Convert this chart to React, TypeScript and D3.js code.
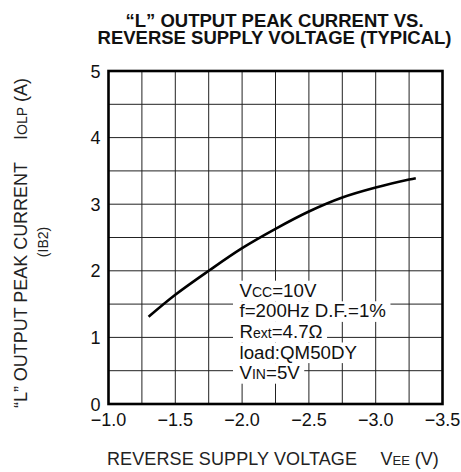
import React, { useEffect, useRef } from "react";
import * as d3 from "d3";

// reverse supply voltage VEE (V) and "L" output peak current IOLP (A)
const vee = [-1.3, -1.5, -1.75, -2.0, -2.25, -2.5, -2.75, -3.0, -3.25, -3.3];
const iolp = [1.31, 1.64, 2.0, 2.34, 2.63, 2.89, 3.1, 3.25, 3.37, 3.39];

const xTicks = [-1.0, -1.5, -2.0, -2.5, -3.0, -3.5];
const yTicks = [0, 1, 2, 3, 4, 5];

// condition lines: [main, subscript, rest]
const conditions: [string, string, string][] = [
  ["V", "CC", "=10V"],
  ["f=200Hz D.F.=1%", "", ""],
  ["R", "ext", "=4.7\u03A9"],
  ["load:QM50DY", "", ""],
  ["V", "IN", "=5V"],
];

const W = 461;
const H = 472;
const FONT = "'Liberation Sans', Arial, Helvetica, sans-serif";

export default function App() {
  const ref = useRef<SVGSVGElement>(null);

  useEffect(() => {
    if (!ref.current) return;
    const svg = d3.select(ref.current);
    svg.selectAll("*").remove();

    const left = 108.5;
    const right = 442.5;
    const top = 71;
    const bottom = 404;

    const x = d3.scaleLinear().domain([-1, -3.5]).range([left, right]);
    const y = d3.scaleLinear().domain([0, 5]).range([bottom, top]);

    // grid
    const grid = svg.append("g").attr("stroke", "#222").attr("stroke-width", 1);
    d3.range(-1.25, -3.5, -0.25).forEach((v) => {
      grid.append("line").attr("x1", x(v)).attr("x2", x(v)).attr("y1", top).attr("y2", bottom);
    });
    d3.range(0.5, 5, 0.5).forEach((v) => {
      grid.append("line").attr("x1", left).attr("x2", right).attr("y1", y(v)).attr("y2", y(v));
    });

    // curve
    const line = d3
      .line<number>()
      .x((d) => x(vee[d]))
      .y((d) => y(iolp[d]))
      .curve(d3.curveCatmullRom.alpha(0.5));
    svg
      .append("path")
      .attr("d", line(d3.range(vee.length)))
      .attr("fill", "none")
      .attr("stroke", "#000")
      .attr("stroke-width", 2.6);

    // condition text with white boxes
    const cond = svg.append("g");
    conditions.forEach((c, i) => {
      const base = 296.7 + i * 20.6;
      const rect = cond.append("rect").attr("fill", "#fff");
      const t = cond
        .append("text")
        .attr("x", 239.5)
        .attr("y", base)
        .attr("font-family", FONT)
        .attr("font-size", 18.7)
        .attr("fill", "#111");
      t.append("tspan").text(c[0]);
      if (c[1]) t.append("tspan").attr("font-size", 14).text(c[1]);
      if (c[2]) t.append("tspan").text(c[2]);
      const w = (t.node() as SVGTextElement).getComputedTextLength();
      rect
        .attr("x", 233)
        .attr("y", base - 16)
        .attr("width", w + 11)
        .attr("height", 20.6);
    });

    // frame
    svg
      .append("rect")
      .attr("x", left)
      .attr("y", top)
      .attr("width", right - left)
      .attr("height", bottom - top)
      .attr("fill", "none")
      .attr("stroke", "#000")
      .attr("stroke-width", 2.6);

    // tick labels
    svg
      .append("g")
      .selectAll("text")
      .data(xTicks)
      .join("text")
      .attr("x", (d) => x(d))
      .attr("y", 425.5)
      .attr("text-anchor", "middle")
      .attr("font-family", FONT)
      .attr("font-size", 18)
      .attr("fill", "#111")
      .text((d) => d.toFixed(1).replace("-", "\u2212"));

    svg
      .append("g")
      .selectAll("text")
      .data(yTicks)
      .join("text")
      .attr("x", 100.5)
      .attr("y", (d) => y(d) + 6.5)
      .attr("text-anchor", "end")
      .attr("font-family", FONT)
      .attr("font-size", 18)
      .attr("fill", "#111")
      .text((d) => String(d));

    // title
    ["\u201CL\u201D OUTPUT PEAK CURRENT VS.", "REVERSE SUPPLY VOLTAGE (TYPICAL)"].forEach((s, i) => {
      svg
        .append("text")
        .attr("x", 274.5)
        .attr("y", 26.5 + i * 17.8)
        .attr("text-anchor", "middle")
        .attr("font-family", FONT)
        .attr("font-weight", "bold")
        .attr("font-size", 18.5)
        .attr("fill", "#111")
        .text(s);
    });

    // x axis label
    const xl = svg
      .append("text")
      .attr("y", 465)
      .attr("font-family", FONT)
      .attr("font-size", 18)
      .attr("fill", "#222");
    xl.append("tspan").attr("x", 107).attr("textLength", 250).text("REVERSE SUPPLY VOLTAGE");
    xl.append("tspan").attr("x", 380.5).text("V");
    xl.append("tspan").attr("font-size", 13).text("EE");
    xl.append("tspan").text(" (V)");

    // y axis label
    svg
      .append("text")
      .attr("transform", "translate(27,408) rotate(-90)")
      .attr("font-family", FONT)
      .attr("font-size", 18)
      .attr("fill", "#222")
      .attr("textLength", 246)
      .text("\u201CL\u201D OUTPUT PEAK CURRENT");
    const yl = svg
      .append("text")
      .attr("transform", "translate(27,140) rotate(-90)")
      .attr("font-family", FONT)
      .attr("font-size", 18)
      .attr("fill", "#222");
    yl.append("tspan").text("I");
    yl.append("tspan").attr("font-size", 14).text("OLP");
    yl.append("tspan").text(" (A)");
    svg
      .append("text")
      .attr("transform", "translate(47.5,242) rotate(-90)")
      .attr("text-anchor", "middle")
      .attr("font-family", FONT)
      .attr("font-size", 14)
      .attr("fill", "#222")
      .text("(IB2)");
  }, []);

  return (
    <svg
      ref={ref}
      width={W}
      height={H}
      style={{ position: "absolute", left: 0, top: 0, background: "#fff" }}
    />
  );
}
